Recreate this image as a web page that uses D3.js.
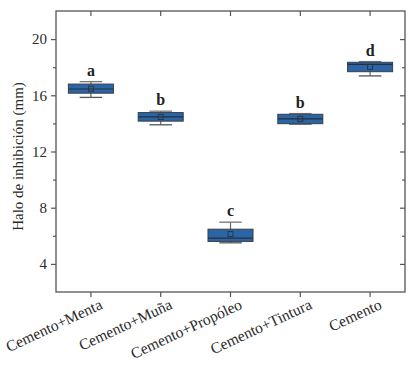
<!DOCTYPE html>
<html><head><meta charset="utf-8">
<script src="https://cdn.jsdelivr.net/npm/d3@7"></script>
<style>body{margin:0;background:#fff}svg{display:block}</style>
</head><body>
<script>
const categories = ["Cemento+Menta","Cemento+Muña","Cemento+Propóleo","Cemento+Tintura","Cemento"];
const whiskerLow = [15.85, 13.9, 5.5, 13.95, 17.38];
const q1 = [16.15, 14.16, 5.6, 13.98, 17.68];
const median = [16.45, 14.46, 5.83, 14.32, 18.2];
const q3 = [16.8, 14.77, 6.47, 14.65, 18.35];
const whiskerHigh = [16.97, 14.87, 6.97, 14.7, 18.4];
const means = [16.47, 14.46, 6.12, 14.32, 18.02];
const letters = ["a","b","c","b","d"];
const majorTicks = [4, 8, 12, 16, 20];
const minorTicks = [2, 6, 10, 14, 18, 22];
const yTitle = "Halo de inhibición (mm)";

const W = 415, H = 374;
const m = {l:56, r:10, t:11, b:82};
const svg = d3.select("body").append("svg").attr("width", W).attr("height", H);
const x = d3.scaleBand().domain(categories).range([m.l, W - m.r]).paddingInner(0).paddingOuter(0);
const y = d3.scaleLinear().domain([2, 22]).range([H - m.b, m.t]);
const font = "'Liberation Serif','Times New Roman',serif";
const axisCol = "#555";

const data = categories.map((c, i) => ({c, lo: whiskerLow[i], q1: q1[i], med: median[i], q3: q3[i], hi: whiskerHigh[i], mean: means[i], letter: letters[i]}));
const bw = x.bandwidth() * 0.645, cw = bw * 0.5;

// frame
svg.append("rect").attr("x", m.l).attr("y", m.t).attr("width", W - m.r - m.l).attr("height", H - m.b - m.t)
  .attr("fill", "none").attr("stroke", axisCol).attr("stroke-width", 1.3);

// left axis
const leftAx = svg.append("g").attr("transform", `translate(${m.l},0)`)
  .call(d3.axisLeft(y).tickValues(majorTicks).tickSize(5).tickPadding(4).tickFormat(d3.format("d")));
leftAx.select(".domain").remove();
leftAx.selectAll("line").attr("stroke", axisCol).attr("stroke-width", 1.2);
leftAx.selectAll("text").attr("font-family", font).attr("font-size", 15).attr("fill", "#2a2a2a");
const leftMinor = svg.append("g").attr("transform", `translate(${m.l},0)`)
  .call(d3.axisLeft(y).tickValues(minorTicks.filter(v => v > 2 && v < 22)).tickSize(3).tickFormat(""));
leftMinor.select(".domain").remove();
leftMinor.selectAll("line").attr("stroke", axisCol).attr("stroke-width", 1.2);

// right axis (inward)
const rightAx = svg.append("g").attr("transform", `translate(${W - m.r},0)`)
  .call(d3.axisLeft(y).tickValues(majorTicks).tickSize(5).tickFormat(""));
rightAx.select(".domain").remove();
rightAx.selectAll("line").attr("stroke", axisCol).attr("stroke-width", 1.2);
const rightMinor = svg.append("g").attr("transform", `translate(${W - m.r},0)`)
  .call(d3.axisLeft(y).tickValues(minorTicks.filter(v => v > 2 && v < 22)).tickSize(3).tickFormat(""));
rightMinor.select(".domain").remove();
rightMinor.selectAll("line").attr("stroke", axisCol).attr("stroke-width", 1.2);

// bottom axis
const bottomAx = svg.append("g").attr("transform", `translate(0,${H - m.b})`)
  .call(d3.axisBottom(x).tickSize(5).tickPadding(6));
bottomAx.select(".domain").remove();
bottomAx.selectAll("line").attr("stroke", axisCol).attr("stroke-width", 1.2);
bottomAx.selectAll("text").attr("font-family", font).attr("font-size", 15.5).attr("fill", "#2a2a2a")
  .attr("text-anchor", "end").attr("dy", "0.3em").attr("dx", "0")
  .attr("transform", "translate(6,2) rotate(-25)");

// top axis (inward)
const topAx = svg.append("g").attr("transform", `translate(0,${m.t})`)
  .call(d3.axisBottom(x).tickSize(5).tickFormat(""));
topAx.select(".domain").remove();
topAx.selectAll("line").attr("stroke", axisCol).attr("stroke-width", 1.2);

// y title
svg.append("text").attr("transform", `translate(23,${(m.t + H - m.b) / 2 + 5}) rotate(-90)`)
  .attr("text-anchor", "middle").attr("font-family", font).attr("font-size", 15).attr("fill", "#2a2a2a")
  .text(yTitle);

// boxes
const g = svg.append("g");
const boxes = g.selectAll("g.box").data(data).enter().append("g")
  .attr("transform", d => `translate(${x(d.c) + x.bandwidth() / 2},0)`);
boxes.append("line").attr("x1", 0).attr("x2", 0).attr("y1", d => y(d.hi)).attr("y2", d => y(d.lo))
  .attr("stroke", "#666").attr("stroke-width", 1.2);
boxes.append("line").attr("x1", -cw / 2).attr("x2", cw / 2).attr("y1", d => y(d.hi)).attr("y2", d => y(d.hi))
  .attr("stroke", "#777").attr("stroke-width", 1.3);
boxes.append("line").attr("x1", -cw / 2).attr("x2", cw / 2).attr("y1", d => y(d.lo)).attr("y2", d => y(d.lo))
  .attr("stroke", "#555").attr("stroke-width", 1.3);
boxes.append("rect").attr("x", -bw / 2).attr("width", bw).attr("y", d => y(d.q3)).attr("height", d => y(d.q1) - y(d.q3))
  .attr("fill", "#2b65a5").attr("stroke", "#3a3f47").attr("stroke-width", 1);
boxes.append("line").attr("x1", -bw / 2).attr("x2", bw / 2).attr("y1", d => y(d.med)).attr("y2", d => y(d.med))
  .attr("stroke", "#24303d").attr("stroke-width", 1.2);
boxes.append("rect").attr("x", -2.5).attr("width", 5).attr("y", d => y(d.mean) - 2.5).attr("height", 5)
  .attr("fill", "none").attr("stroke", "#2a3440").attr("stroke-width", 0.9);
boxes.append("text").attr("x", 0).attr("y", d => y(d.hi) - 6).attr("text-anchor", "middle")
  .attr("font-family", font).attr("font-size", 16).attr("font-weight", "bold").attr("fill", "#222")
  .text(d => d.letter);
</script>
</body></html>
